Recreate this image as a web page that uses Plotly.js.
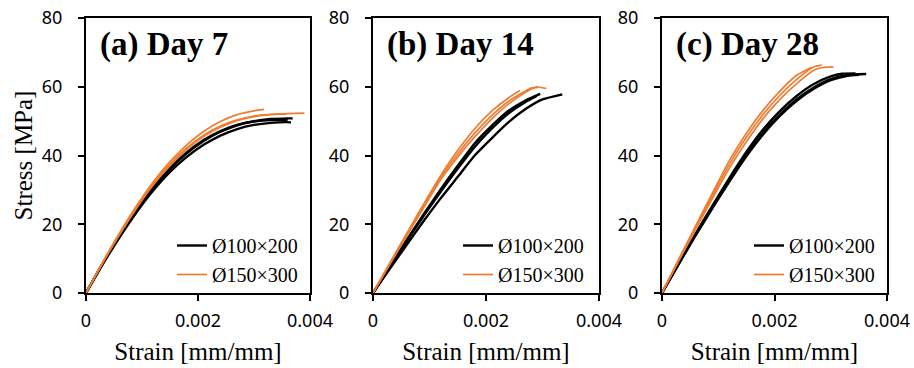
<!DOCTYPE html>
<html>
<head>
<meta charset="utf-8">
<script src="https://cdn.plot.ly/plotly-3.0.1.min.js"></script>
<style>html,body{margin:0;padding:0;background:#fff;}#chart{width:914px;height:368px;}</style>
</head>
<body>
<div id="chart"></div>
<script>
// ---------- Data (strain [mm/mm], stress [MPa]) ----------
// Panel (a) Day 7
const d7_black1_strain = [0,0.0003,0.0006,0.0009,0.0012,0.0015,0.0018,0.0021,0.0024,0.0027,0.0030,0.0033,0.0036,0.00369];
const d7_black1_stress = [0,8.6,16.6,24.0,30.5,36.0,40.6,44.2,46.9,48.8,50.0,50.6,50.8,50.8];
const d7_black2_strain = [0,0.0003,0.0006,0.0009,0.0012,0.0015,0.0018,0.0021,0.0024,0.0027,0.0030,0.0033,0.0036,0.00366];
const d7_black2_stress = [0,8.4,16.2,23.4,29.8,35.2,39.6,43.1,45.8,47.7,48.9,49.5,49.7,49.6];
const d7_black3_strain = [0,0.0003,0.0006,0.0009,0.0012,0.0015,0.0018,0.0021,0.0024,0.0027,0.0030,0.0033,0.0036];
const d7_black3_stress = [0,8.7,16.8,24.2,30.8,36.3,40.9,44.5,47.1,48.9,49.9,50.3,50.3];
const d7_orange1_strain = [0,0.0003,0.0006,0.0009,0.0012,0.0015,0.0018,0.0021,0.0024,0.0027,0.0030,0.00318];
const d7_orange1_stress = [0,9.0,17.5,25.3,32.3,38.2,43.1,47.0,49.9,51.9,53.0,53.4];
const d7_orange2_strain = [0,0.0003,0.0006,0.0009,0.0012,0.0015,0.0018,0.0021,0.0024,0.0027,0.0030,0.0033,0.0036,0.0039];
const d7_orange2_stress = [0,8.9,17.2,24.9,31.7,37.5,42.2,45.9,48.6,50.4,51.5,52.0,52.2,52.3];
const d7_orange3_strain = [0,0.0003,0.0006,0.0009,0.0012,0.0015,0.0018,0.0021,0.0024,0.0027,0.0030,0.0033,0.00357];
const d7_orange3_stress = [0,8.8,17.0,24.6,31.4,37.1,41.8,45.5,48.2,50.1,51.3,51.9,52.0];

// Panel (b) Day 14
const d14_black1_strain = [0,0.0003,0.0006,0.0009,0.0012,0.0015,0.0018,0.0021,0.0024,0.0027,0.0030,0.00335];
const d14_black1_stress = [0,7.1,14.1,21.0,27.6,33.8,40.0,45.0,49.7,53.5,56.3,57.8];
const d14_black2_strain = [0,0.0003,0.0006,0.0009,0.0012,0.0015,0.0018,0.0021,0.0024,0.0027,0.00296];
const d14_black2_stress = [0,7.8,15.5,23.0,30.2,37.0,43.5,48.6,53.0,56.0,57.9];
const d14_black3_strain = [0,0.0003,0.0006,0.0009,0.0012,0.0015,0.0018,0.0021,0.0024,0.0027,0.0029];
const d14_black3_stress = [0,7.6,15.2,22.5,29.5,36.2,42.5,47.8,52.3,55.6,57.3];
const d14_orange1_strain = [0,0.0003,0.0006,0.0009,0.0012,0.0015,0.0018,0.0021,0.0024,0.0026];
const d14_orange1_stress = [0,8.8,17.4,26.0,34.2,41.5,47.8,52.9,56.8,58.9];
const d14_orange2_strain = [0,0.0003,0.0006,0.0009,0.0012,0.0015,0.0018,0.0021,0.0024,0.0027,0.0029,0.0030,0.00307];
const d14_orange2_stress = [0,8.4,16.7,24.9,33.0,39.6,45.4,50.6,55.0,58.4,60.0,59.7,59.5];
const d14_orange3_strain = [0,0.0003,0.0006,0.0009,0.0012,0.0015,0.0018,0.0021,0.0024,0.0027,0.0028,0.00292];
const d14_orange3_stress = [0,8.6,17.0,25.4,33.6,40.5,46.5,51.6,55.8,58.8,59.6,59.8];

// Panel (c) Day 28
const d28_black1_strain = [0,0.0003,0.0006,0.0009,0.0012,0.0015,0.0018,0.0021,0.0024,0.0027,0.0030,0.0033,0.00363];
const d28_black1_stress = [0,8.6,17.0,25.0,32.8,40.2,46.7,52.0,56.4,59.8,62.2,63.4,63.7];
const d28_black2_strain = [0,0.0003,0.0006,0.0009,0.0012,0.0015,0.0018,0.0021,0.0024,0.0027,0.0030,0.0032,0.00344];
const d28_black2_stress = [0,8.7,17.3,25.5,33.5,41.0,47.6,53.0,57.4,60.8,63.0,63.8,63.9];
const d28_black3_strain = [0,0.0003,0.0006,0.0009,0.0012,0.0015,0.0018,0.0021,0.0024,0.0027,0.0030,0.0033,0.0035];
const d28_black3_stress = [0,8.5,16.8,24.8,32.5,39.8,46.2,51.6,56.0,59.4,61.9,63.2,63.5];
const d28_orange1_strain = [0,0.0003,0.0006,0.0009,0.0012,0.0015,0.0018,0.0021,0.0024,0.00266];
const d28_orange1_stress = [0,9.9,19.6,29.2,38.6,46.5,53.2,58.8,63.4,65.7];
const d28_orange2_strain = [0,0.0003,0.0006,0.0009,0.0012,0.0015,0.0018,0.0021,0.0024,0.0027,0.0029,0.00305];
const d28_orange2_stress = [0,9.4,18.6,27.6,36.4,44.0,50.8,56.4,61.0,64.8,65.7,65.8];
const d28_orange3_strain = [0,0.0003,0.0006,0.0009,0.0012,0.0015,0.0018,0.0021,0.0024,0.0026,0.0027,0.00284];
const d28_orange3_stress = [0,9.7,19.1,28.4,37.5,45.3,52.0,57.6,62.2,64.8,65.8,66.3];

const seriesNames = ["Ø100×200", "Ø150×300"];
const panelTitles = ["(a) Day 7", "(b) Day 14", "(c) Day 28"];
const xTickVals = [0, 0.002, 0.004];
const xTickText = ["0", "0.002", "0.004"];
const yTickVals = [0, 20, 40, 60, 80];
const xTitle = "Strain [mm/mm]";
const yTitle = "Stress [MPa]";

// ---------- Build ----------
const BLACK = "#000000", ORANGE = "#ED7D31";
const panels = [
  {ax: "", leg: "legend", black: [[d7_black1_strain,d7_black1_stress],[d7_black2_strain,d7_black2_stress],[d7_black3_strain,d7_black3_stress]],
   orange: [[d7_orange1_strain,d7_orange1_stress],[d7_orange2_strain,d7_orange2_stress],[d7_orange3_strain,d7_orange3_stress]]},
  {ax: "2", leg: "legend2", black: [[d14_black1_strain,d14_black1_stress],[d14_black2_strain,d14_black2_stress],[d14_black3_strain,d14_black3_stress]],
   orange: [[d14_orange1_strain,d14_orange1_stress],[d14_orange2_strain,d14_orange2_stress],[d14_orange3_strain,d14_orange3_stress]]},
  {ax: "3", leg: "legend3", black: [[d28_black1_strain,d28_black1_stress],[d28_black2_strain,d28_black2_stress],[d28_black3_strain,d28_black3_stress]],
   orange: [[d28_orange1_strain,d28_orange1_stress],[d28_orange2_strain,d28_orange2_stress],[d28_orange3_strain,d28_orange3_stress]]}
];

const traces = [];
panels.forEach(p => {
  const groups = [[p.black, BLACK, 2.4, seriesNames[0]], [p.orange, ORANGE, 1.7, seriesNames[1]]];
  groups.forEach(([curves, color, w, name]) => {
    curves.forEach((c, i) => {
      traces.push({
        x: c[0], y: c[1], type: "scatter", mode: "lines",
        line: {color: color, width: w, shape: "spline", smoothing: 0.6},
        name: name, showlegend: i === 0, legend: p.leg,
        xaxis: "x" + p.ax, yaxis: "y" + p.ax, hoverinfo: "skip"
      });
    });
  });
});

const W = 914, H = 368;
const xDomains = [[86, 310], [373, 599], [662, 887]];
const yDom = [1 - 293 / H, 1 - 18 / H];
const legLeft = [172, 458, 749];

const tickFont = {family: "'Noto Sans', sans-serif", size: 18, color: "#000"};
const serif = "'Liberation Serif', 'Times New Roman', serif";

const layout = {
  width: W, height: H,
  margin: {l: 0, r: 0, t: 0, b: 0},
  paper_bgcolor: "#fff", plot_bgcolor: "#fff",
  showlegend: true,
  annotations: [],
  font: {family: serif, color: "#000"}
};

panels.forEach((p, k) => {
  const xa = "xaxis" + p.ax, ya = "yaxis" + p.ax;
  layout[xa] = {
    domain: [xDomains[k][0] / W, xDomains[k][1] / W],
    range: [0, 0.004], tickvals: xTickVals, ticktext: xTickText,
    showgrid: false, zeroline: false, showline: true, mirror: true,
    linecolor: "#000", linewidth: 2, ticks: "outside", ticklen: 6, tickwidth: 2, tickcolor: "#000",
    ticklabelstandoff: 4,
    tickfont: tickFont, anchor: "y" + p.ax, fixedrange: true,
    title: {text: xTitle, font: {family: serif, size: 25, color: "#000"}, standoff: 12}
  };
  layout[ya] = {
    domain: yDom, range: [0, 80], tickvals: yTickVals,
    showgrid: false, zeroline: false, showline: true, mirror: true,
    linecolor: "#000", linewidth: 2, ticks: "outside", ticklen: 6, tickwidth: 2, tickcolor: "#000",
    ticklabelstandoff: 12,
    tickfont: tickFont, anchor: "x" + p.ax, fixedrange: true,
    title: k === 0 ? {text: yTitle, font: {family: serif, size: 25, color: "#000"}, standoff: 2} : {text: ""}
  };
  layout[p.leg] = {
    x: legLeft[k] / W, xanchor: "left", y: 1 - 226 / H, yanchor: "top",
    bgcolor: "rgba(0,0,0,0)", borderwidth: 0,
    font: {family: serif, size: 20, color: "#000"},
    traceorder: "normal", itemclick: false, itemdoubleclick: false
  };
  layout.annotations.push({
    xref: "x" + p.ax + " domain", yref: "y" + p.ax + " domain",
    x: 0.053, y: 0.902, xanchor: "left", yanchor: "middle", showarrow: false,
    text: "<b>" + panelTitles[k] + "</b>",
    font: {family: serif, size: 33, color: "#000"}
  });
});

Plotly.newPlot("chart", traces, layout, {displayModeBar: false, staticPlot: true});
</script>
</body>
</html>
